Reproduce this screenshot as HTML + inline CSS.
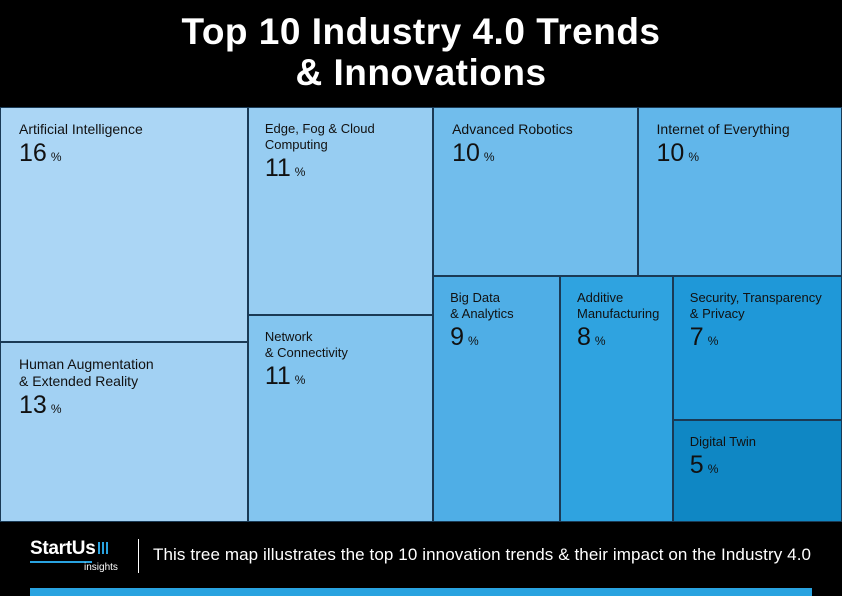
<!DOCTYPE html>
<html><head><meta charset="utf-8"><style>
body{margin:0;width:842px;height:596px;background:#000;overflow:hidden;font-family:"Liberation Sans",sans-serif;position:relative}
#title{position:absolute;top:11px;left:0;width:842px;text-align:center;color:#fff;font-weight:bold;font-size:37px;line-height:41px;letter-spacing:0.5px}
#tm{position:absolute;left:0;top:107px;width:842px;height:415px}
.cell{position:absolute;box-sizing:border-box;border:1px solid #1a3a55;color:#111}
.lab{position:absolute;left:18px;top:13px;font-size:14px;line-height:17px}
.val{font-size:25px;margin-top:7px}
.val span{font-size:12px;margin-left:4px}
#footer{position:absolute;top:522px;left:0;width:842px;height:74px}
</style></head><body>
<div id="title">Top 10 Industry 4.0 Trends<br>&amp; Innovations</div>
<div id="tm"></div>
<div id="footer">
 <div style="position:absolute;left:30px;top:16px;color:#fff">
  <div style="font-size:19px;font-weight:bold;letter-spacing:-0.3px">StartUs<span style="display:inline-block;margin-left:3px;width:12px;height:12px;background:repeating-linear-gradient(90deg,#29a3e0 0 2px,transparent 2px 4px)"></span></div>
  <div style="width:62px;height:2px;background:#29a3e0;margin-top:1px"></div>
  <div style="font-size:10px;margin-left:54px;margin-top:-1px">insights</div>
 </div>
 <div style="position:absolute;left:138px;top:17px;width:1px;height:34px;background:#fff"></div>
 <div style="position:absolute;left:153px;top:23px;color:#fff;font-size:17px;letter-spacing:0.1px">This tree map illustrates the top 10 innovation trends &amp; their impact on the Industry 4.0</div>
 <div style="position:absolute;left:30px;top:66px;width:782px;height:8px;background:#29a3e0"></div>
</div>
<script>
const categories=["Artificial Intelligence","Human Augmentation<br>&amp; Extended Reality","Edge, Fog &amp; Cloud<br>Computing","Network<br>&amp; Connectivity","Advanced Robotics","Internet of Everything","Big Data<br>&amp; Analytics","Additive<br>Manufacturing","Security, Transparency<br>&amp; Privacy","Digital Twin"];
const values=[16,13,11,11,10,10,9,8,7,5];
const colors=["#abd6f5","#a2d1f3","#97cdf2","#83c5ef","#71bdec","#61b6ea","#4faee6","#2fa3e0","#1f98d8","#0f87c4"];
const W=842,H=415;
const tm=document.getElementById('tm');
const rects=[];
const tot=values.reduce((a,b)=>a+b,0);
function col(idx,x0,y0,w,h,bias){const s=idx.reduce((a,i)=>a+values[i],0);let y=y0;idx.forEach((i,k)=>{let hh=h*values[i]/s;if(bias&&k==0)hh+=bias;if(bias&&k==1)hh-=bias;rects[i]=[x0,y,w,hh];y+=hh;});}
function row(idx,x0,y0,w,h){const s=idx.reduce((a,i)=>a+values[i],0);let xx=x0;idx.forEach(i=>{const ww=w*values[i]/s;rects[i]=[xx,y0,ww,h];xx+=ww;});}
const w1=W*(values[0]+values[1])/tot*1.015;
col([0,1],0,0,w1,H,6);
const w2=W*(values[2]+values[3])/tot*1.0;
col([2,3],w1,0,w2,H);
const rx=w1+w2,rw=W-rx;
const rs=values.slice(4).reduce((a,b)=>a+b,0);
const th=H*(values[4]+values[5])/rs;
row([4,5],rx,0,rw,th);
const bs=values[6]+values[7]+values[8]+values[9];
const wa=rw*values[6]/bs*1.0,wb=rw*values[7]/bs*1.0;
rects[6]=[rx,th,wa,H-th];rects[7]=[rx+wa,th,wb,H-th];
col([8,9],rx+wa+wb,th,rw-wa-wb,H-th);
categories.forEach((c,i)=>{const r=rects[i];const d=document.createElement('div');


d.className='cell';d.style.left=r[0]+'px';d.style.top=r[1]+'px';d.style.width=r[2]+'px';d.style.height=r[3]+'px';d.style.background=colors[i];
const small=r[2]<190;
d.innerHTML='<div class="lab" style="'+(small?'font-size:13px;line-height:16px;left:16px;':'')+'">'+c+'<div class="val">'+values[i]+'<span>%</span></div></div>';
tm.appendChild(d);});
</script>
</body></html>
